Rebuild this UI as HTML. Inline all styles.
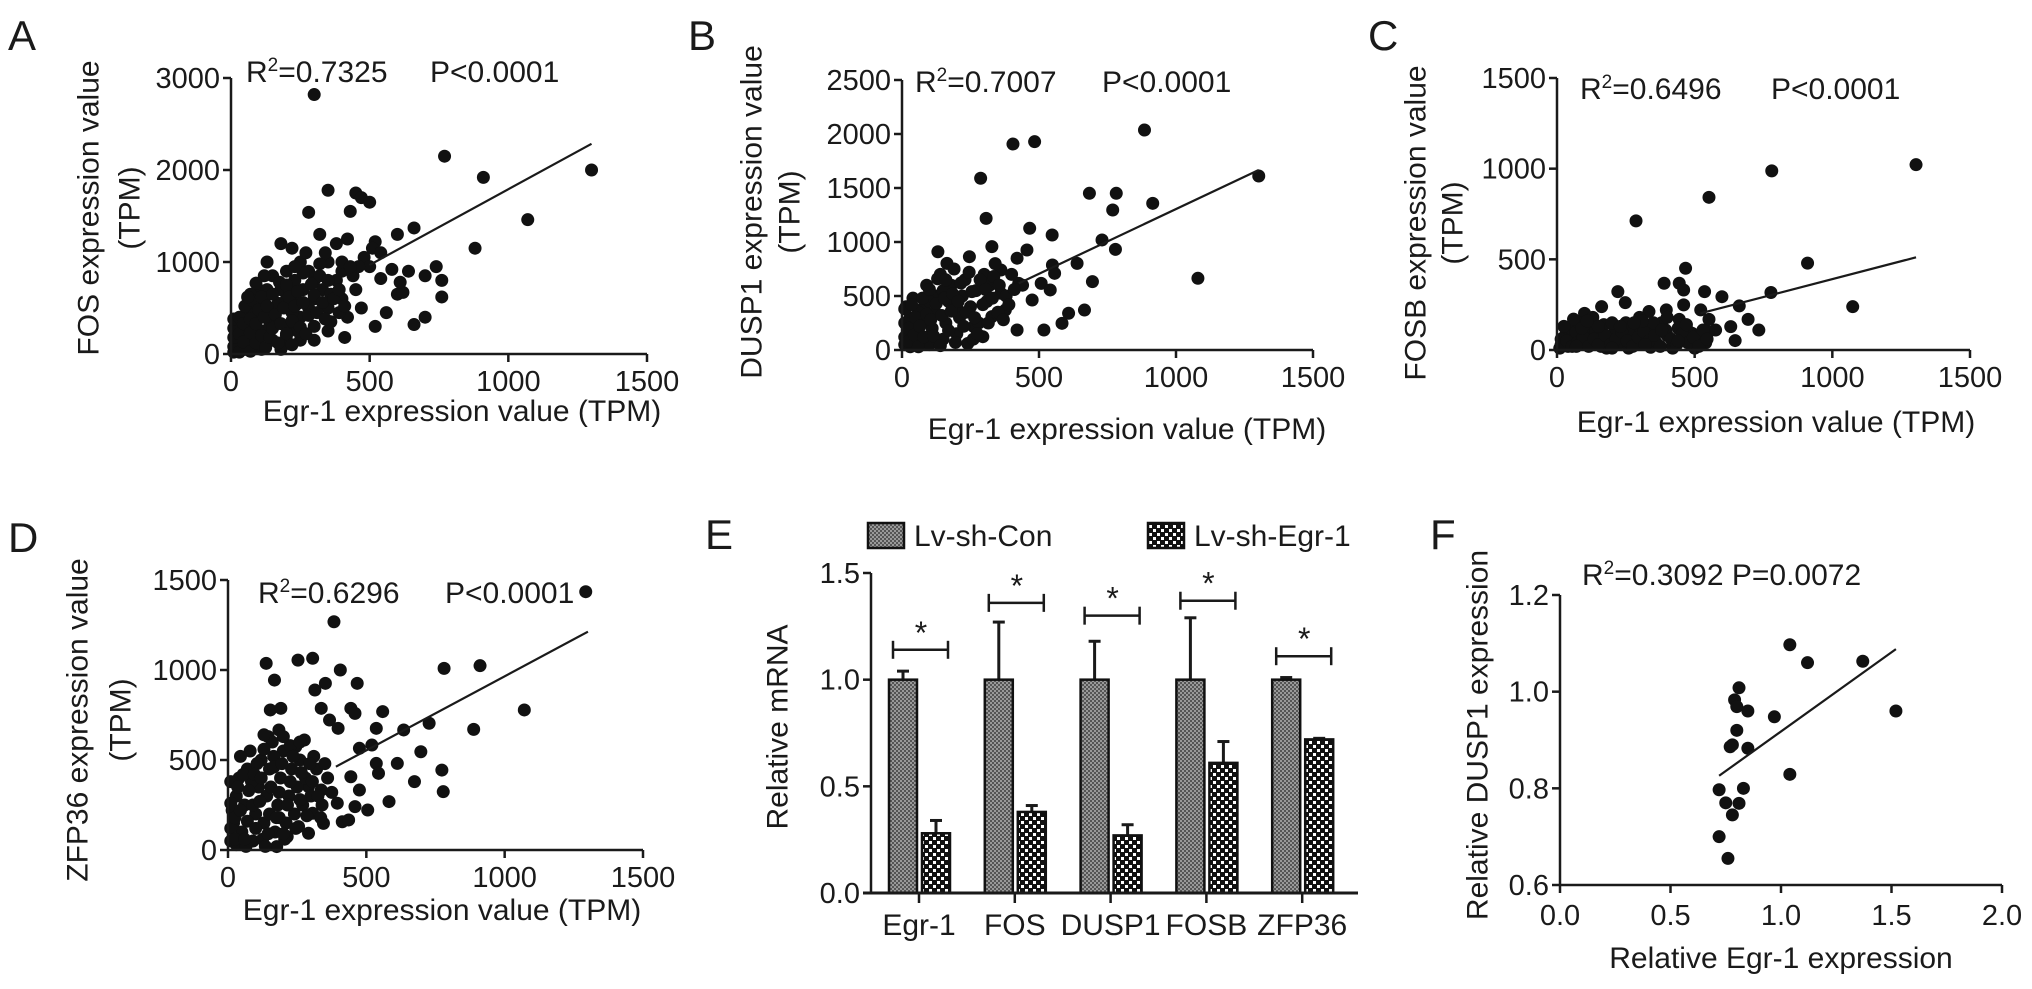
<!DOCTYPE html>
<html><head><meta charset="utf-8"><style>
html,body{margin:0;padding:0;background:#fff;}
svg{display:block;font-family:"Liberation Sans",Arial,sans-serif;}
text{fill:#1a1a1a;}
</style></head><body>
<svg id="fig" width="2032" height="989" viewBox="0 0 2032 989" xmlns="http://www.w3.org/2000/svg">
<defs>
<pattern id="patCon" width="4" height="4" patternUnits="userSpaceOnUse"><rect width="4" height="4" fill="#555"/><rect width="2" height="2" fill="#999"/><rect x="2" y="2" width="2" height="2" fill="#999"/></pattern>
<pattern id="patSh" width="8" height="8" patternUnits="userSpaceOnUse"><rect width="8" height="8" fill="#111"/><rect x="1" y="1" width="3" height="3" fill="#fff"/><rect x="5" y="5" width="3" height="3" fill="#fff"/></pattern>
</defs>
<g id="root"></g>
</svg>
<script>
// ---------- data ----------
const fosPts=[[300,2820],[770,2150],[910,1920],[1300,2000],[1070,1460],[880,1150],[350,1780],[450,1750],[470,1700],[500,1650],[430,1550],[280,1540],[320,1300],[380,1200],[420,1250],[600,1300],[660,1370],[520,1220],[510,1150],[540,1100],[580,920],[640,900],[700,850],[740,950],[760,800],[760,620],[480,1050],[500,950],[600,650],[620,670],[700,400],[660,320],[520,300],[470,500],[350,250],[410,180],[300,800],[250,1000],[180,1200],[130,1000],[100,700],[150,850],[220,1150],[270,1100],[200,900],[350,1000],[400,900],[450,700],[300,600],[250,400],[200,300],[150,500],[100,400],[60,300],[40,200],[30,100],[80,150],[120,250],[20,50],[50,50],[100,100],[150,150],[200,200],[250,150],[300,300],[350,500],[400,600],[200,600],[120,600],[80,500],[160,350],[220,450],[280,500],[330,700],[380,800],[260,700],[230,800],[180,700],[10,20],[60,80],[90,250],[140,300],[190,100],[240,250],[300,150],[360,350],[420,400],[180,50],[110,50],[30,300],[60,450],[90,550],[130,700],[170,550],[210,700],[240,550],[280,900],[320,850],[360,650],[390,450],[440,850],[460,950],[540,820],[560,450],[610,780],[15,150],[70,650]];
const fosBlob=[[10,80],[10,180],[10,280],[10,380],[30,20],[30,220],[30,400],[45,130],[45,330],[50,520],[70,30],[70,230],[70,380],[80,580],[90,120],[90,330],[100,480],[110,200],[110,620],[120,400],[125,70],[130,520],[140,180],[150,650],[150,280],[160,430],[170,120],[175,780],[180,330],[190,500],[200,220],[200,750],[210,620],[220,100],[220,360],[230,520],[240,680],[250,290],[260,880],[260,560],[270,220],[280,420],[290,760],[300,640],[310,450],[320,980],[330,560],[340,380],[350,800],[370,600],[390,700],[400,1000],[410,520],[430,950],[120,850],[90,770],[60,620],[230,950],[340,1100]];
const dusp1Pts=[[885,2037],[405,1907],[484,1929],[287,1590],[1302,1611],[684,1451],[782,1451],[769,1296],[915,1358],[307,1219],[466,1127],[548,1065],[730,1019],[779,932],[131,910],[1080,664],[695,633],[666,370],[608,340],[584,247],[518,185],[420,185],[639,802],[549,787],[456,926],[328,957],[246,864],[164,802],[361,741],[426,617],[508,617],[557,710],[475,463],[377,370],[328,309],[295,123],[262,216],[361,525],[541,556],[10,50],[20,150],[30,300],[40,480],[60,100],[70,250],[80,400],[90,600],[100,50],[110,200],[120,350],[130,500],[140,700],[150,100],[160,250],[170,450],[180,600],[190,750],[200,150],[210,300],[220,500],[230,650],[240,60],[250,400],[270,550],[280,250],[300,700],[310,450],[320,600],[340,800],[350,350],[380,500],[400,700],[420,850],[440,600],[30,30],[50,200],[15,400],[60,350],[100,450],[150,550],[200,400],[260,100]];
const dusp1Blob=[[10,120],[10,250],[10,380],[25,80],[25,200],[35,420],[45,140],[50,300],[60,30],[65,220],[75,480],[80,120],[90,330],[100,560],[105,280],[115,130],[125,430],[130,660],[140,40],[145,320],[155,480],[160,650],[170,180],[180,360],[185,520],[195,70],[205,450],[215,620],[225,220],[235,350],[245,720],[255,540],[265,300],[275,150],[285,650],[295,420],[305,560],[315,250],[330,480],[335,680],[355,600],[370,280],[390,420],[410,560]];
const fosbPts=[[1304,1022],[780,988],[552,842],[287,712],[910,479],[1074,239],[777,317],[467,451],[389,368],[444,368],[460,331],[221,322],[248,261],[536,322],[599,294],[662,243],[694,169],[733,110],[631,129],[647,52],[576,110],[552,169],[522,221],[460,249],[397,221],[334,212],[100,202],[162,239],[444,169],[491,92],[10,10],[20,40],[30,80],[40,20],[50,120],[60,60],[70,100],[80,150],[90,30],[100,80],[110,130],[120,50],[140,100],[160,20],[170,140],[190,70],[210,110],[230,40],[250,150],[270,90],[290,30],[300,130],[320,60],[340,110],[360,40],[380,150],[400,80],[420,30],[440,120],[460,60],[480,100],[500,30],[520,70],[540,40],[550,100],[300,180],[350,150],[200,150],[130,180],[60,170],[25,130],[15,60],[180,10],[260,10],[340,15],[420,10],[500,10],[400,180]];
const fosbBlob=[[15,30],[35,50],[55,20],[75,40],[95,70],[115,20],[135,60],[150,30],[175,80],[195,30],[215,60],[235,100],[255,50],[275,20],[295,70],[315,100],[335,50],[355,80],[375,20],[395,110],[415,60],[435,30],[455,90],[475,40],[495,70],[515,20],[530,110],[545,60],[90,120],[150,130],[230,130],[310,160],[380,110],[470,140],[110,160],[280,150],[70,20],[200,10],[320,30],[440,50]];
const zfp36Pts=[[1293,1435],[383,1268],[138,1037],[253,1055],[306,1065],[406,1000],[168,944],[352,926],[467,926],[314,889],[781,1009],[911,1024],[1071,778],[888,670],[727,704],[559,769],[153,778],[191,787],[337,787],[367,722],[444,787],[459,759],[398,676],[536,676],[635,667],[697,546],[612,481],[520,583],[475,565],[773,444],[778,324],[674,380],[582,269],[505,222],[459,241],[413,157],[436,167],[345,148],[536,481],[544,426],[475,333],[444,407],[337,333],[291,352],[306,204],[291,93],[214,74],[176,19],[184,667],[145,630],[276,611],[245,574],[10,50],[20,150],[30,300],[40,400],[50,100],[60,250],[70,450],[80,550],[90,50],[100,200],[110,350],[120,500],[130,150],[140,300],[150,450],[160,600],[170,100],[180,250],[190,400],[200,550],[210,150],[220,300],[230,450],[240,200],[250,350],[260,500],[270,250],[280,400],[300,300],[320,450],[340,250],[360,400],[30,30],[15,220],[45,520],[65,20],[85,380],[105,480],[125,60],[145,90],[165,520],[185,180],[205,60],[225,580],[255,130],[310,520]];
const zfp36Blob=[[10,120],[10,260],[10,380],[25,60],[25,180],[35,350],[45,220],[55,420],[60,60],[70,160],[75,330],[90,250],[95,420],[100,120],[115,270],[120,400],[130,560],[135,20],[150,200],[155,350],[165,460],[175,180],[185,320],[195,480],[200,90],[215,250],[225,380],[235,520],[245,120],[260,280],[265,430],[285,190],[295,480],[305,380],[325,300],[335,180],[350,480],[375,320],[395,260],[130,640],[200,630],[260,600]];
const fitA=[500,968,1300,2285];
const fitB=[426,617,1302,1667];
const fitC=[521,202,1304,511];
const fitD=[390,463,1301,1213];

const genes=["Egr-1","FOS","DUSP1","FOSB","ZFP36"];
const conVals=[1.0,1.0,1.0,1.0,1.0];
const conErr=[1.04,1.27,1.18,1.29,1.01];
const shVals=[0.28,0.38,0.27,0.61,0.72];
const shErr=[0.34,0.41,0.32,0.71,0.725];
const sigLevel=[1.14,1.36,1.30,1.37,1.11];
const eTicks=[0,0.5,1.0,1.5];

const fX=[0.72,0.72,0.76,0.75,0.78,0.81,0.83,0.77,0.78,0.80,0.79,0.81,0.80,0.85,0.85,0.97,1.04,1.04,1.12,1.37,1.52];
const fY=[0.797,0.70,0.655,0.77,0.745,0.769,0.80,0.886,0.89,0.92,0.983,1.008,0.969,0.96,0.883,0.948,0.829,1.097,1.06,1.063,0.96];
const fFit=[0.72,0.826,1.52,1.088];
const fXTicks=[0,0.5,1.0,1.5,2.0];
const fYTicks=[0.6,0.8,1.0,1.2];

// ---------- helpers ----------
const NS="http://www.w3.org/2000/svg";
const root=document.getElementById('root');
function el(tag,attrs,parent,txt){const e=document.createElementNS(NS,tag);for(const k in attrs)e.setAttribute(k,attrs[k]);if(txt!==undefined)e.textContent=txt;(parent||root).appendChild(e);return e;}
function grp(name){const g=el('g',{});return g;}
function line(g,x1,y1,x2,y2,w){return el('line',{x1,y1,x2,y2,stroke:'#1a1a1a','stroke-width':w||2.5},g);}
function txt(g,x,y,s,size,anchor,name){const t=el('text',{x,y,'font-size':size,'text-anchor':anchor||'start'},g,s);return t;}
function rtxt(g,cx,cy,s,size,name){const t=el('text',{x:0,y:0,'font-size':size,'text-anchor':'middle','dominant-baseline':'central',transform:`translate(${cx},${cy}) rotate(-90)`},g,s);return t;}
function r2(g,x,y,val,px,pval){
  const t=el('text',{x,y,'font-size':30},g);
  
  
  el('tspan',{},t,'R');el('tspan',{dy:-11,'font-size':19},t,'2');el('tspan',{dy:11},t,'='+val);
  if(px!==null){txt(g,px,y,pval,30,'start','p-value-label');}
  else{el('tspan',{},t,' '+pval);}
}

function scatter(cfg){
  const g=grp(cfg.name);
  const sx=v=>cfg.x0+(v/cfg.xmax)*(cfg.x1-cfg.x0);
  const sy=v=>cfg.y0-(v/cfg.ymax)*(cfg.y0-cfg.yt);
  const pg=grp('points');g.appendChild(pg);
  cfg.pts.concat(cfg.blob).forEach(p=>{const c=el('circle',{cx:sx(p[0]),cy:sy(p[1]),r:6.5,fill:'#111'},pg);
    
    });
  const a=line(g,cfg.x0,cfg.y0,cfg.x0,cfg.yt);
  const b=line(g,cfg.x0,cfg.y0,cfg.x1,cfg.y0);
  cfg.yticks.forEach(v=>{line(g,cfg.x0-8,sy(v),cfg.x0,sy(v));txt(g,cfg.x0-11,sy(v)+10,String(v),29,'end','y-tick-label');});
  [0,500,1000,1500].forEach(v=>{line(g,sx(v),cfg.y0,sx(v),cfg.y0+8);txt(g,sx(v),cfg.y0+37,String(v),29,'middle','x-tick-label');});
  const f=cfg.fit;const fl=line(g,sx(f[0]),sy(f[1]),sx(f[2]),sy(f[3]),2.2);
  txt(g,cfg.xtx,cfg.xty,'Egr-1 expression value (TPM)',30,'middle','x-axis-title');
  rtxt(g,cfg.yl1,cfg.ylc,cfg.ylab,30,'y-axis-title');
  rtxt(g,cfg.yl2,cfg.ylc,'(TPM)',30,'y-axis-title-unit');
  r2(g,cfg.rx,cfg.ry,cfg.r2,cfg.px,'P<0.0001');
  txt(g,cfg.lx,cfg.ly,cfg.letter,42,'start','panel-label-'+cfg.letter.toLowerCase());
}

scatter({name:'panel-a-fos-scatter',pts:fosPts,blob:fosBlob,fit:fitA,x0:231,x1:647,y0:354,yt:78,xmax:1500,ymax:3000,yticks:[0,1000,2000,3000],xtx:462,xty:421,ylab:'FOS expression value',yl1:89,yl2:130,ylc:208,r2:'0.7325',rx:246,ry:82,px:430,letter:'A',lx:8,ly:50});
scatter({name:'panel-b-dusp1-scatter',pts:dusp1Pts,blob:dusp1Blob,fit:fitB,x0:902,x1:1313,y0:350,yt:80,xmax:1500,ymax:2500,yticks:[0,500,1000,1500,2000,2500],xtx:1127,xty:439,ylab:'DUSP1 expression value',yl1:752,yl2:790,ylc:212,r2:'0.7007',rx:915,ry:92,px:1102,letter:'B',lx:688,ly:50});
scatter({name:'panel-c-fosb-scatter',pts:fosbPts,blob:fosbBlob,fit:fitC,x0:1557,x1:1970,y0:350,yt:78,xmax:1500,ymax:1500,yticks:[0,500,1000,1500],xtx:1776,xty:432,ylab:'FOSB expression value',yl1:1416,yl2:1453,ylc:223,r2:'0.6496',rx:1580,ry:99,px:1771,letter:'C',lx:1368,ly:50});
scatter({name:'panel-d-zfp36-scatter',pts:zfp36Pts,blob:zfp36Blob,fit:fitD,x0:228,x1:643,y0:850,yt:580,xmax:1500,ymax:1500,yticks:[0,500,1000,1500],xtx:442,xty:920,ylab:'ZFP36 expression value',yl1:78,yl2:121,ylc:720,r2:'0.6296',rx:258,ry:603,px:445,letter:'D',lx:8,ly:552});

// ---------- panel E ----------
(function(){
  const g=grp('panel-e-bar-chart');
  const x0=871,xEnd=1358,y0=893,yTop=573;
  const sy=v=>y0-(v/1.5)*(y0-yTop);
  const cx=i=>919+i*95.8;
  txt(g,705,549,'E',42,'start','panel-label-e');
  const lg=grp('legend');g.appendChild(lg);
  let r=el('rect',{x:868,y:523,width:36,height:25,fill:'url(#patCon)',stroke:'#111','stroke-width':2.5},lg);
  txt(lg,914,546,'Lv-sh-Con',30,'start','legend-entry-lv-sh-con');
  r=el('rect',{x:1148,y:523,width:36,height:25,fill:'url(#patSh)',stroke:'#111','stroke-width':2.5},lg);
  txt(lg,1194,546,'Lv-sh-Egr-1',30,'start','legend-entry-lv-sh-egr-1');
  genes.forEach((gn,i)=>{
    const c=cx(i);
    line(g,c-16,sy(conVals[i]),c-16,sy(conErr[i]),3);line(g,c-22,sy(conErr[i]),c-10,sy(conErr[i]),3);
    line(g,c+17,sy(shVals[i]),c+17,sy(shErr[i]),3);line(g,c+11,sy(shErr[i]),c+23,sy(shErr[i]),3);
    let b=el('rect',{x:c-30,y:sy(conVals[i]),width:28,height:y0-sy(conVals[i]),fill:'url(#patCon)',stroke:'#111','stroke-width':2.5},g);
    
    
    b=el('rect',{x:c+3,y:sy(shVals[i]),width:28,height:y0-sy(shVals[i]),fill:'url(#patSh)',stroke:'#111','stroke-width':2.5},g);
    
    
    const ys=sy(sigLevel[i]);
    line(g,c-26,ys,c+29,ys,2.5);line(g,c-26,ys-9,c-26,ys+9,2.5);line(g,c+29,ys-9,c+29,ys+9,2.5);
    txt(g,c+2,ys-6,'*',32,'middle','significance-star');
    line(g,c,y0,c,y0+10,2.5);
    txt(g,c,y0+42,gn,30,'middle','x-tick-label');
  });
  const ya=line(g,x0,y0,x0,yTop);
  const xa=line(g,x0-8,y0,xEnd,y0,3);
  eTicks.forEach(v=>{line(g,x0-8,sy(v),x0,sy(v));txt(g,x0-11,sy(v)+10,v.toFixed(1),29,'end','y-tick-label');});
  rtxt(g,778,727,'Relative mRNA',30,'y-axis-title');
})();

// ---------- panel F ----------
(function(){
  const g=grp('panel-f-scatter');
  const x0=1560,x1=2002,y0=885,yt=595;
  const sx=v=>x0+(v/2)*(x1-x0);
  const sy=v=>y0-((v-0.6)/0.6)*(y0-yt);
  txt(g,1430,549,'F',42,'start','panel-label-f');
  fX.forEach((v,i)=>{const c=el('circle',{cx:sx(v),cy:sy(fY[i]),r:6.5,fill:'#111'},g);
    
    });
  const ya=line(g,x0,y0,x0,yt);
  const xa=line(g,x0,y0,x1,y0);
  fYTicks.forEach(v=>{line(g,x0-8,sy(v),x0,sy(v));txt(g,x0-11,sy(v)+10,v.toFixed(1),29,'end','y-tick-label');});
  fXTicks.forEach(v=>{line(g,sx(v),y0,sx(v),y0+8);txt(g,sx(v),y0+40,v.toFixed(1),29,'middle','x-tick-label');});
  const fl=line(g,sx(fFit[0]),sy(fFit[1]),sx(fFit[2]),sy(fFit[3]),2.2);
  txt(g,1781,968,'Relative Egr-1 expression',30,'middle','x-axis-title');
  rtxt(g,1478,735,'Relative DUSP1 expression',30,'y-axis-title');
  r2(g,1582,585,'0.3092',null,'P=0.0072');
})();
</script>
</body></html>
